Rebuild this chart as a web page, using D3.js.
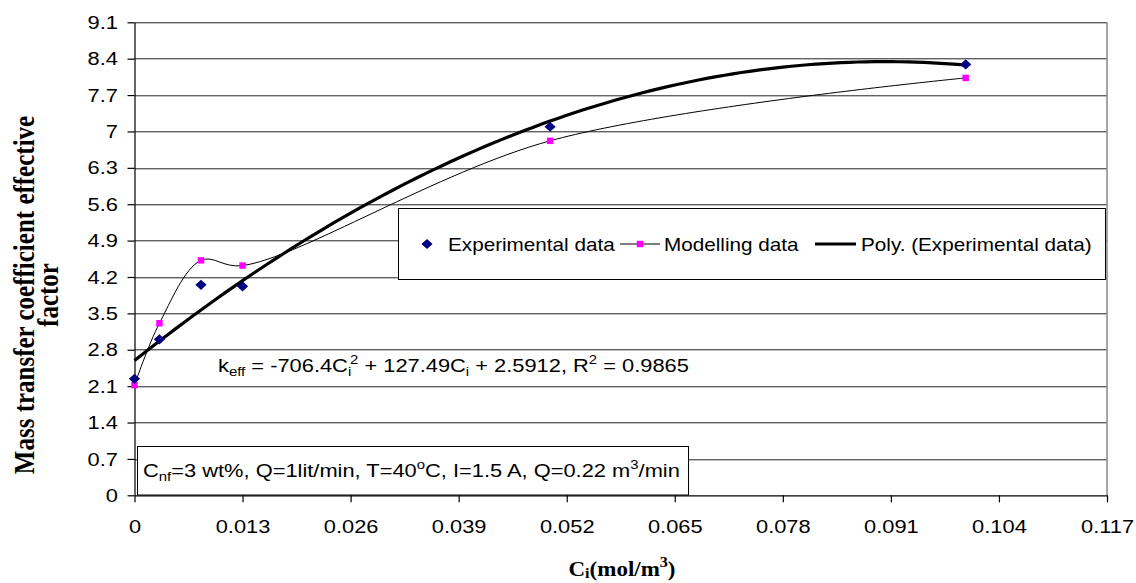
<!DOCTYPE html>
<html>
<head>
<meta charset="utf-8">
<script src="https://cdn.jsdelivr.net/npm/d3@7"></script>
<style>
  body { margin: 0; background: #fff; }
  svg { display: block; }
  text { font-family: "Liberation Sans", Arial, sans-serif; }
</style>
</head>
<body>
<svg width="1136" height="583"></svg>
<script>
// values
var ciValues = [0, 0.003, 0.008, 0.013, 0.05, 0.1];
var expValues = [2.24, 3.0, 4.05, 4.02, 7.09, 8.29];
var modValues = [2.12, 3.31, 4.52, 4.42, 6.82, 8.03];
// printed trendline: keff = c0 + c1*Ci + c2*Ci^2
var trendCoef = [2.5912, 127.49, -706.4];
var xTicks = [0, 0.013, 0.026, 0.039, 0.052, 0.065, 0.078, 0.091, 0.104, 0.117];
var xTickLabels = ['0', '0.013', '0.026', '0.039', '0.052', '0.065', '0.078', '0.091', '0.104', '0.117'];
var yTicks = [0, 0.7, 1.4, 2.1, 2.8, 3.5, 4.2, 4.9, 5.6, 6.3, 7, 7.7, 8.4, 9.1];
var yTickLabels = ['0', '0.7', '1.4', '2.1', '2.8', '3.5', '4.2', '4.9', '5.6', '6.3', '7', '7.7', '8.4', '9.1'];

var margin = {top: 22.3, right: 29, bottom: 87.7, left: 134.5};
var width = 1136 - margin.left - margin.right,
    height = 583 - margin.top - margin.bottom;
var sx = 1.15; // the picture is a bit wider than tall

var svg = d3.select('svg');
var g = svg.append('g')
    .attr('transform', 'translate(' + margin.left + ',' + margin.top + ')');

var x = d3.scaleLinear().domain([0, 0.117]).range([0, width]);
var y = d3.scaleLinear().domain([0, 9.1]).range([height, 0]);

// gridlines
g.append('g')
  .selectAll('line')
  .data(yTicks.slice(1))
  .enter().append('line')
    .attr('x1', 0).attr('x2', width)
    .attr('y1', function(d) { return Math.round(y(d)) + 0.5; })
    .attr('y2', function(d) { return Math.round(y(d)) + 0.5; })
    .attr('stroke', '#222')
    .attr('stroke-width', 1);

// right border
g.append('line')
  .attr('x1', width).attr('x2', width)
  .attr('y1', 0).attr('y2', height)
  .attr('stroke', '#888').attr('stroke-width', 1.5);

// axes
var xAxis = d3.axisBottom(x).tickValues(xTicks)
  .tickFormat(function(d, i) { return xTickLabels[i]; })
  .tickSize(7).tickSizeOuter(0);
var yAxis = d3.axisLeft(y).tickValues(yTicks)
  .tickFormat(function(d, i) { return yTickLabels[i]; })
  .tickSize(7).tickSizeOuter(0);

var gx = g.append('g')
  .attr('transform', 'translate(0,' + height + ')')
  .call(xAxis);
gx.selectAll('text')
  .attr('y', 0).attr('dy', 0)
  .attr('transform', 'translate(0,37.5) scale(' + sx + ',1)')
  .style('font-size', '19px').attr('fill', '#000');

var gy = g.append('g').call(yAxis);
gy.selectAll('text')
  .attr('x', 0)
  .attr('transform', 'translate(-16.5,0) scale(' + sx + ',1)')
  .style('font-size', '19px').attr('fill', '#000');

g.selectAll('.domain, .tick line').attr('stroke', '#000').attr('stroke-width', 1.2);

// trendline from the printed equation
var trendX = d3.range(0, 0.1 + 1e-9, 0.001);
var trendLine = d3.line()
  .x(function(d) { return x(d); })
  .y(function(d) { return y(trendCoef[0] + trendCoef[1] * d + trendCoef[2] * d * d); });
g.append('path')
  .datum(trendX)
  .attr('d', trendLine)
  .attr('fill', 'none')
  .attr('stroke', '#000')
  .attr('stroke-width', 3.2);

// modelling data, smoothed line
var modLine = d3.line()
  .x(function(d, i) { return x(ciValues[i]); })
  .y(function(d) { return y(d); })
  .curve(d3.curveCatmullRom.alpha(0.5));
g.append('path')
  .datum(modValues)
  .attr('d', modLine)
  .attr('fill', 'none')
  .attr('stroke', '#000')
  .attr('stroke-width', 1);

var square = d3.symbol().type(d3.symbolSquare).size(42);
g.selectAll('.mod')
  .data(modValues)
  .enter().append('path')
    .attr('class', 'mod')
    .attr('d', square)
    .attr('fill', '#ff00ff')
    .attr('transform', function(d, i) {
      return 'translate(' + x(ciValues[i]) + ',' + y(d) + ')';
    });

var diamond = d3.symbol().type(d3.symbolSquare).size(52);
g.selectAll('.exp')
  .data(expValues)
  .enter().append('path')
    .attr('class', 'exp')
    .attr('d', diamond)
    .attr('fill', '#000080')
    .attr('transform', function(d, i) {
      return 'translate(' + x(ciValues[i]) + ',' + y(d) + ') scale(1.1,1) rotate(45)';
    });

// stretched text helper
function label(parent, px, py, size, anchor) {
  return parent.append('g')
    .attr('transform', 'translate(' + px + ',' + py + ') scale(' + sx + ',1)')
    .append('text')
    .attr('text-anchor', anchor || 'start')
    .style('font-size', size + 'px');
}

// legend
var leg = svg.append('g');
leg.append('rect')
  .attr('x', 398.5).attr('y', 208.5).attr('width', 707).attr('height', 71)
  .attr('fill', '#fff').attr('stroke', '#000').attr('stroke-width', 1);
leg.append('path')
  .attr('d', diamond)
  .attr('fill', '#000080')
  .attr('transform', 'translate(427,244) scale(1.1,1) rotate(45)');
label(leg, 448, 250.5, 18).text('Experimental data');
leg.append('line')
  .attr('x1', 620).attr('x2', 660).attr('y1', 244).attr('y2', 244)
  .attr('stroke', '#000').attr('stroke-width', 1);
leg.append('path')
  .attr('d', square).attr('fill', '#ff00ff')
  .attr('transform', 'translate(640,244)');
label(leg, 664, 250.5, 18).text('Modelling data');
leg.append('line')
  .attr('x1', 815).attr('x2', 856).attr('y1', 244).attr('y2', 244)
  .attr('stroke', '#000').attr('stroke-width', 3.2);
label(leg, 861, 250.5, 18).text('Poly. (Experimental data)');

// equation
var eq = label(svg, 218, 372, 19);
eq.append('tspan').text('k');
eq.append('tspan').attr('dy', 4).style('font-size', '13px').text('eff');
eq.append('tspan').attr('dy', -4).text(' = -706.4C');
eq.append('tspan').attr('dy', 4).style('font-size', '13px').text('i');
eq.append('tspan').attr('dy', -12).attr('dx', -1).style('font-size', '13px').text('2');
eq.append('tspan').attr('dy', 8).text(' + 127.49C');
eq.append('tspan').attr('dy', 4).style('font-size', '13px').text('i');
eq.append('tspan').attr('dy', -4).text(' + 2.5912, R');
eq.append('tspan').attr('dy', -8).style('font-size', '13px').text('2');
eq.append('tspan').attr('dy', 8).text(' = 0.9865');

// conditions box
svg.append('rect')
  .attr('x', 137.5).attr('y', 446.5).attr('width', 551).attr('height', 48.5)
  .attr('fill', '#fff').attr('stroke', '#000').attr('stroke-width', 1);
var cond = label(svg, 143, 477, 19);
cond.append('tspan').text('C');
cond.append('tspan').attr('dy', 4).style('font-size', '13px').text('nf');
cond.append('tspan').attr('dy', -4).text('=3 wt%, Q=1lit/min, T=40');
cond.append('tspan').attr('dy', -8).style('font-size', '13px').text('o');
cond.append('tspan').attr('dy', 8).text('C, I=1.5 A, Q=0.22 m');
cond.append('tspan').attr('dy', -8).style('font-size', '13px').text('3');
cond.append('tspan').attr('dy', 8).text('/min');

// axis titles
var serif = '"Liberation Serif", "Times New Roman", serif';
var xt = label(svg, 622, 576, 20, 'middle')
  .style('font-family', serif).style('font-weight', 'bold');
xt.append('tspan').text('C');
xt.append('tspan').style('font-size', '14px').attr('dy', 2).text('i');
xt.append('tspan').attr('dy', -2).text('(mol/m');
xt.append('tspan').style('font-size', '14px').attr('dy', -9).text('3');
xt.append('tspan').attr('dy', 9).text(')');

var yt = svg.append('g')
  .attr('transform', 'translate(34,295) scale(' + sx + ',1) rotate(-90)')
  .append('text')
  .attr('text-anchor', 'middle')
  .style('font-family', serif).style('font-weight', 'bold')
  .style('font-size', '25px');
yt.append('tspan').attr('x', 0).attr('y', 0).text('Mass transfer coefficient effective');
yt.append('tspan').attr('x', 0).attr('y', 21).text('factor');
</script>
</body>
</html>
